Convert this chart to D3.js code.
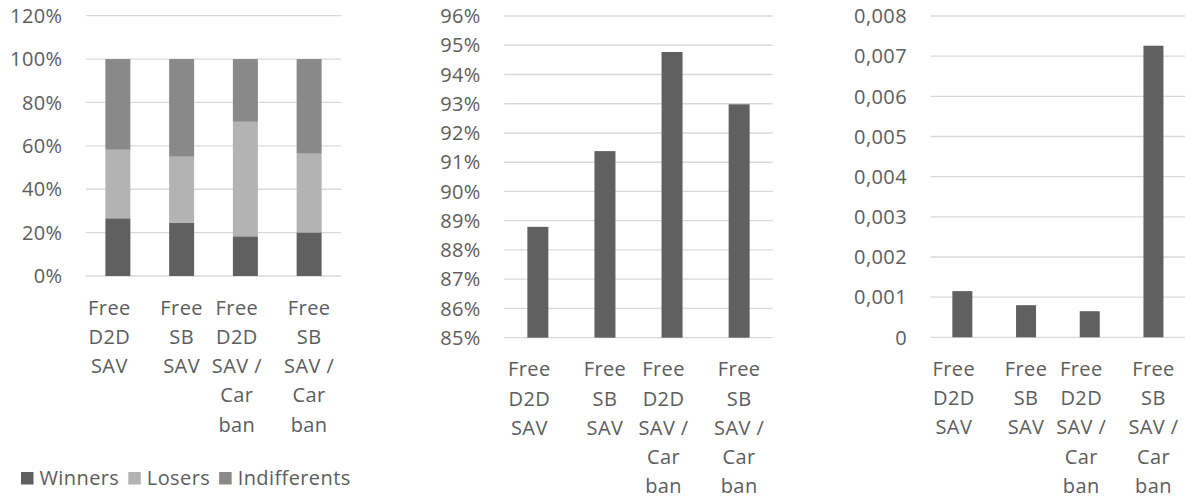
<!DOCTYPE html>
<html>
<head>
<meta charset="utf-8">
<script src="https://cdn.jsdelivr.net/npm/d3@7"></script>
<style>
  body { margin: 0; background: #fff; }
  text { font-family: "Open Sans", sans-serif; font-size: 20px; letter-spacing: 0.4px; fill: #5d5d5d; }
</style>
</head>
<body>
<script>
// Categories (wrapped the way the original tick labels are)
let categories = ["Free D2D SAV", "Free SB SAV", "Free D2D SAV / Car ban", "Free SB SAV / Car ban"];
let categoryLines = [
    ["Free", "D2D", "SAV"],
    ["Free", "SB", "SAV"],
    ["Free", "D2D", "SAV /", "Car", "ban"],
    ["Free", "SB", "SAV /", "Car", "ban"]
];

// Chart 1: share of winners / losers / indifferents
let seriesNames = ["Winners", "Losers", "Indifferents"];
let winners      = [0.266, 0.246, 0.183, 0.201];
let losers       = [0.316, 0.304, 0.528, 0.363];
let indifferents = [0.418, 0.450, 0.289, 0.436];
let ticks1 = [0, 0.2, 0.4, 0.6, 0.8, 1.0, 1.2];

// Chart 2: percentages
let values2 = [0.8879, 0.9138, 0.9477, 0.9298];
let ticks2 = [0.85, 0.86, 0.87, 0.88, 0.89, 0.90, 0.91, 0.92, 0.93, 0.94, 0.95, 0.96];

// Chart 3: small values
let values3 = [0.00115, 0.0008, 0.00065, 0.00726];
let ticks3 = [0, 0.001, 0.002, 0.003, 0.004, 0.005, 0.006, 0.007, 0.008];

let colors = {Winners: "#606060", Losers: "#b3b3b3", Indifferents: "#898989"};
let gridColor = "#d9d9d9";
let lineHeight = 29.3;

let svg = d3.select("body").append("svg")
    .attr("width", 1185)
    .attr("height", 499);

// one panel: grid, y labels, wrapped x labels; returns scales
function panel(opt) {
    let x = d3.scaleBand()
        .domain(categories)
        .range([opt.left, opt.right])
        .paddingInner(opt.pad)
        .paddingOuter(opt.pad / 2);
    let y = d3.scaleLinear().domain(opt.domain).range([opt.bottom, opt.top]);

    let g = svg.append("g");

    g.selectAll("line.grid")
        .data(opt.ticks)
      .enter().append("line")
        .attr("class", "grid")
        .attr("x1", opt.left).attr("x2", opt.right)
        .attr("y1", d => y(d)).attr("y2", d => y(d))
        .attr("stroke", gridColor)
        .attr("stroke-width", 1.3);

    g.selectAll("text.ytick")
        .data(opt.ticks)
      .enter().append("text")
        .attr("class", "ytick")
        .attr("x", opt.left - 23.5)
        .attr("y", d => y(d))
        .attr("dy", "0.36em")
        .style("text-anchor", "end")
        .text(opt.format);

    categories.forEach(function(c, i) {
        // Excel nudges the wider D2D labels a bit to the left
        let cx = x(c) + x.bandwidth() / 2 - (i % 2 === 0 ? 8.5 : 0);
        let t = g.append("text")
            .attr("x", cx)
            .attr("y", opt.bottom + 38.5)
            .style("text-anchor", "middle");
        categoryLines[i].forEach(function(line, j) {
            t.append("tspan")
                .attr("x", cx)
                .attr("y", opt.bottom + 38.5 + j * lineHeight)
                .text(line);
        });
    });

    return {x: x, y: y, g: g};
}

// ---- chart 1 (stacked) ----
let p1 = panel({left: 86, right: 341, top: 15.7, bottom: 276, pad: 0.608,
                domain: [0, 1.2], ticks: ticks1, format: d3.format(".0%")});

let table1 = categories.map(function(c, i) {
    return {cat: c, Winners: winners[i], Losers: losers[i], Indifferents: indifferents[i]};
});
let stack = d3.stack().keys(seriesNames)(table1);

p1.g.selectAll("g.series")
    .data(stack)
  .enter().append("g")
    .attr("fill", d => colors[d.key])
  .selectAll("rect")
    .data(d => d)
  .enter().append("rect")
    .attr("x", d => p1.x(d.data.cat))
    .attr("width", p1.x.bandwidth())
    .attr("y", d => p1.y(d[1]))
    .attr("height", d => p1.y(d[0]) - p1.y(d[1]));

// legend
let lx = 21;
seriesNames.forEach(function(name) {
    svg.append("rect")
        .attr("x", lx).attr("y", 472)
        .attr("width", 12.5).attr("height", 12.5)
        .attr("fill", colors[name]);
    let t = svg.append("text")
        .attr("x", lx + 18.5)
        .attr("y", 485)
        .text(name);
    lx += 18.5 + t.node().getComputedTextLength() + 9;
});

// ---- chart 2 ----
let p2 = panel({left: 504.3, right: 772.7, top: 16, bottom: 337.7, pad: 0.687,
                domain: [0.85, 0.96], ticks: ticks2, format: d3.format(".0%")});

p2.g.selectAll("rect.bar")
    .data(values2)
  .enter().append("rect")
    .attr("class", "bar")
    .attr("x", (d, i) => p2.x(categories[i]))
    .attr("width", p2.x.bandwidth())
    .attr("y", d => p2.y(d))
    .attr("height", d => p2.y(0.85) - p2.y(d))
    .attr("fill", colors.Winners);

// ---- chart 3 ----
let fmt3 = function(d) {
    return d === 0 ? "0" : d3.format(".3f")(d).replace(".", ",");
};
let p3 = panel({left: 930.5, right: 1185.3, top: 16, bottom: 337.3, pad: 0.686,
                domain: [0, 0.008], ticks: ticks3, format: fmt3});

p3.g.selectAll("rect.bar")
    .data(values3)
  .enter().append("rect")
    .attr("class", "bar")
    .attr("x", (d, i) => p3.x(categories[i]))
    .attr("width", p3.x.bandwidth())
    .attr("y", d => p3.y(d))
    .attr("height", d => p3.y(0) - p3.y(d))
    .attr("fill", colors.Winners);
</script>
</body>
</html>
